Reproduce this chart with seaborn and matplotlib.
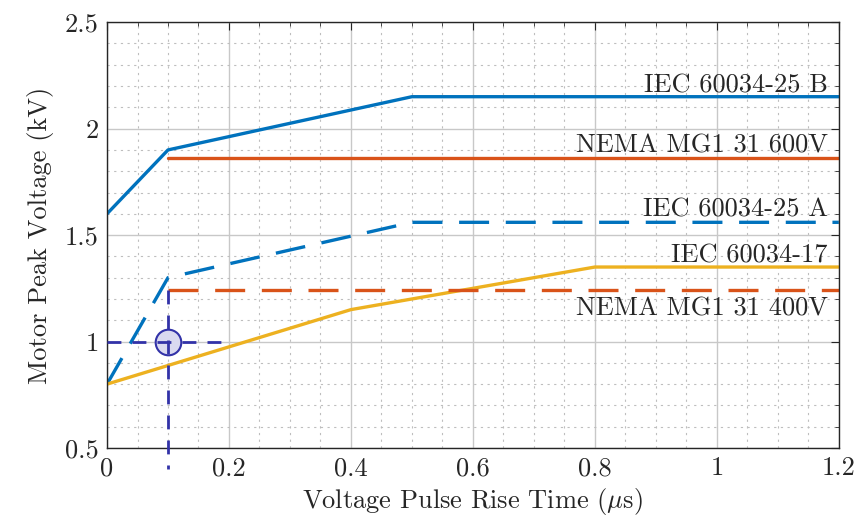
import seaborn as sns
import matplotlib.pyplot as plt
from matplotlib.ticker import MultipleLocator

# rise time (us) vs peak voltage (kV) for each standard
iec25b_x = [0, 0.1, 0.5, 1.2]
iec25b_y = [1.6, 1.9, 2.15, 2.15]
nema600_x = [0.1, 1.2]
nema600_y = [1.86, 1.86]
iec25a_x = [0, 0.1, 0.5, 1.2]
iec25a_y = [0.8, 1.3, 1.56, 1.56]
iec17_x = [0, 0.4, 0.8, 1.2]
iec17_y = [0.8, 1.15, 1.35, 1.35]
nema400_x = [0.1, 1.2]
nema400_y = [1.24, 1.24]

op_x = 0.1
op_y = 1.0

labels = ["IEC 60034-25 B", "NEMA MG1 31 600V", "IEC 60034-25 A",
          "IEC 60034-17", "NEMA MG1 31 400V"]
label_y = [2.171, 1.89, 1.585, 1.373, 1.124]

blue = "#0072BD"
orange = "#D95319"
yellow = "#EDB120"
navy = "#3232A8"

sns.set_style("white")
plt.rcParams["font.family"] = ["serif"]
plt.rcParams["font.serif"] = ["cmr10", "DejaVu Serif"]
plt.rcParams["mathtext.fontset"] = "cm"
plt.rcParams["axes.formatter.use_mathtext"] = True

fs = 19

fig = plt.figure(figsize=(8.63, 5.28), dpi=100)
ax = fig.add_axes([0.124, 0.1515, 0.848, 0.8065])

lw = 2.4
dash = (9, 5)
sns.lineplot(x=iec25b_x, y=iec25b_y, color=blue, lw=lw, ax=ax)
sns.lineplot(x=nema600_x, y=nema600_y, color=orange, lw=lw, ax=ax)
sns.lineplot(x=iec25a_x, y=iec25a_y, color=blue, lw=lw, ax=ax)
ax.lines[-1].set_dashes(dash)
sns.lineplot(x=iec17_x, y=iec17_y, color=yellow, lw=lw, ax=ax)
sns.lineplot(x=nema400_x, y=nema400_y, color=orange, lw=lw, ax=ax)
ax.lines[-1].set_dashes(dash)

# operating point guide lines
ax.scatter([op_x], [op_y], s=340, facecolor="#D9D9F0", edgecolor=navy,
           linewidth=1.5, zorder=2.5)
ax.plot([0, 0.2], [op_y, op_y], color=navy, lw=2, dashes=(5, 4), zorder=3)
ax.plot([op_x, op_x], [nema400_y[0], 0.4], color=navy, lw=2,
        dashes=(5, 4), clip_on=False, zorder=3)

for txt, yy in zip(labels, label_y):
    ax.text(1.182, yy, txt, ha="right", va="baseline", fontsize=fs)

ax.set_xlim(0, 1.2)
ax.set_ylim(0.5, 2.5)
ax.xaxis.set_minor_locator(MultipleLocator(0.05))
ax.yaxis.set_minor_locator(MultipleLocator(0.1))
ax.set_xticks([0, 0.2, 0.4, 0.6, 0.8, 1, 1.2])
ax.set_xticklabels(["0", "0.2", "0.4", "0.6", "0.8", "1", "1.2"])
ax.set_yticks([0.5, 1, 1.5, 2, 2.5])
ax.set_yticklabels(["0.5", "1", "1.5", "2", "2.5"])

ax.grid(which="major", color="#C8C8C8", lw=1)
ax.grid(which="minor", color="#BEBEBE", lw=0.8, ls=(0, (2, 4)))
ax.set_axisbelow(True)
ax.tick_params(which="both", direction="in", top=True, right=True,
               labelsize=fs, colors="#262626")
ax.tick_params(which="major", length=6, pad=6)
ax.tick_params(which="minor", length=3)
for s in ax.spines.values():
    s.set_color("#262626")
    s.set_linewidth(1)

ax.set_xlabel(r"Voltage Pulse Rise Time ($\mu$s)", fontsize=fs, labelpad=4)
ax.set_ylabel("Motor Peak Voltage (kV)", fontsize=fs, labelpad=8)

fig.savefig("out.png", dpi=100)
